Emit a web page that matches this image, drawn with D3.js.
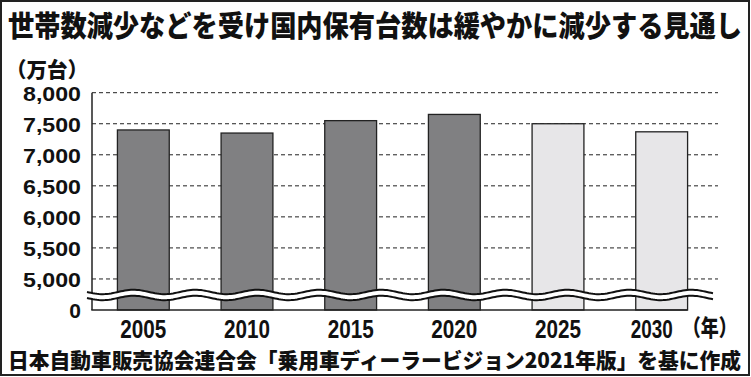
<!DOCTYPE html>
<html><head><meta charset="utf-8">
<script src="https://cdn.jsdelivr.net/npm/d3@7"></script>
<style>
body{margin:0;background:#fff;}
svg{display:block;}
.num{font-family:"Liberation Sans",Arial,sans-serif;font-weight:bold;fill:#111;}
.jp{font-family:"Noto Sans CJK JP",sans-serif;font-weight:900;fill:#111;}
</style></head>
<body>
<svg id="c" width="751" height="377"></svg>
<script>
const title = "世帯数減少などを受け国内保有台数は緩やかに減少する見通し";
const unitLabel = "（万台）";
const source = "日本自動車販売協会連合会「乗用車ディーラービジョン2021年版」を基に作成";
const years = ["2005","2010","2015","2020","2025","2030"];
const values = [7400, 7350, 7550, 7650, 7500, 7370];
const isForecast = [false,false,false,false,true,true];
const yTicks = [4500,5000,5500,6000,6500,7000,7500,8000];
const gridTicks = [5000,5500,6000,6500,7000,7500,8000];
const yearSuffix = "（年）";

const svg = d3.select("#c");
// frame
svg.append("rect").attr("x",1).attr("y",1).attr("width",748).attr("height",374)
  .attr("fill","none").attr("stroke","#222").attr("stroke-width",2);

svg.append("text").attr("class","jp").attr("x",8).attr("y",37)
  .attr("font-size",29).attr("textLength",734).attr("lengthAdjust","spacingAndGlyphs").text(title);
svg.append("text").attr("class","jp").attr("x",6).attr("y",77)
  .attr("font-size",21).attr("textLength",82).attr("lengthAdjust","spacingAndGlyphs").text(unitLabel);

const y = d3.scaleLinear().domain([4500,8000]).range([310,92.7]);
const x = d3.scaleBand().domain(years).range([91.5,713.5]).paddingInner(0.5).paddingOuter(0.25);

// grid
svg.append("g").selectAll("line").data(gridTicks).join("line")
  .attr("x1",92).attr("x2",718).attr("y1",d=>y(d)).attr("y2",d=>y(d))
  .attr("stroke","#222").attr("stroke-width",1).attr("stroke-dasharray","4,3");

// bars
svg.append("g").selectAll("rect").data(years).join("rect")
  .attr("x",d=>x(d)).attr("width",x.bandwidth())
  .attr("y",(d,i)=>y(values[i])).attr("height",(d,i)=>y(4500)-y(values[i]))
  .attr("fill",(d,i)=>isForecast[i]?"#e7e6e8":"#808082")
  .attr("stroke","#222").attr("stroke-width",1.3);

// axis lines
svg.append("line").attr("x1",92).attr("x2",92).attr("y1",y(8000)).attr("y2",y(4500))
  .attr("stroke","#222").attr("stroke-width",1.5);
const lastYear = years[years.length-1];
svg.append("line").attr("x1",91.3).attr("x2",x(lastYear)+x.bandwidth()).attr("y1",y(4500)).attr("y2",y(4500))
  .attr("stroke","#222").attr("stroke-width",1.5);

// break squiggle
const x0 = 87, x1 = 714, yc = (y(4500)+y(5000))/2 + 0.5;
const wave = (off) => d3.range(x0, x1+1, 2).map(xx => [xx, yc + off + 2.2*Math.sin((xx-x0)/62*2*Math.PI)]);
const upper = wave(-3), lower = wave(3);
const line = d3.line();
svg.append("path").attr("d", line(upper.concat(lower.slice().reverse()))+"Z").attr("fill","#fff");
svg.append("path").attr("d", line(upper)).attr("fill","none").attr("stroke","#111").attr("stroke-width",2);
svg.append("path").attr("d", line(lower)).attr("fill","none").attr("stroke","#111").attr("stroke-width",2);

// y axis labels
const ya = svg.append("g").attr("transform","translate(81,0)")
  .call(d3.axisLeft(y).tickValues(yTicks).tickSize(0).tickPadding(0)
    .tickFormat(d => d===4500 ? "0" : d3.format(",")(d)));
ya.select(".domain").remove();
ya.selectAll("text").attr("class","num").attr("font-size",21).attr("font-family",null)
  .attr("dy","0.36em")
  .each(function(d){ if(d!==4500) d3.select(this).attr("textLength",58).attr("lengthAdjust","spacingAndGlyphs"); });

// x axis labels
const xa = svg.append("g").attr("transform","translate(0,312)")
  .call(d3.axisBottom(x).tickSize(0).tickPadding(0));
xa.select(".domain").remove();
xa.selectAll("text").attr("class","num").attr("font-size",25).attr("font-family",null)
  .attr("y",26).attr("dy",null)
  .attr("textLength", d => d===lastYear ? 42 : 46).attr("lengthAdjust","spacingAndGlyphs")
  .attr("x", d => d===lastYear ? -10 : 0);
svg.append("text").attr("class","jp").attr("x",x(lastYear)+x.bandwidth()/2+21).attr("y",336)
  .attr("font-size",23).attr("textLength",54).attr("lengthAdjust","spacingAndGlyphs").text(yearSuffix);

svg.append("text").attr("class","jp").attr("x",8).attr("y",368)
  .attr("font-size",21).attr("textLength",733).attr("lengthAdjust","spacingAndGlyphs").text(source);
</script>
</body></html>
